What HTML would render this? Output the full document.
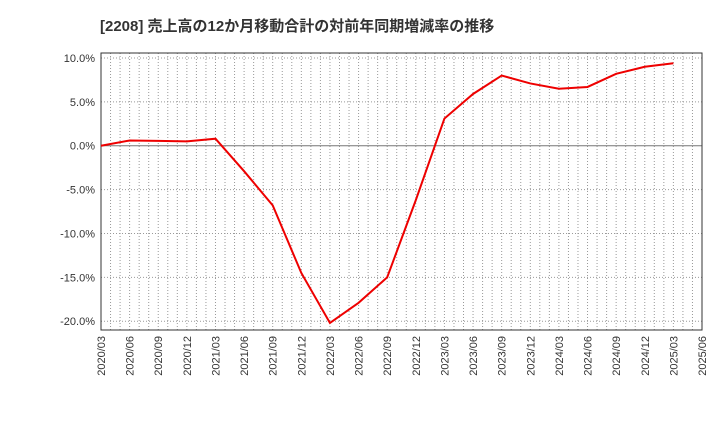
<!DOCTYPE html>
<html><head><meta charset="utf-8"><style>
body{margin:0;background:#fff;font-family:"Liberation Sans","Noto Sans CJK JP",sans-serif;}
</style></head><body>
<svg width="720" height="440" xmlns="http://www.w3.org/2000/svg">
<text x="100" y="31" font-size="15" font-weight="bold" fill="#333" font-family="Liberation Sans, Noto Sans CJK JP, sans-serif">[2208]  売上高の12か月移動合計の対前年同期増減率の推移</text>
<g id="grid"></g><g id="axes"></g><g id="series"></g>
</svg>
<script>
const xLabels=["2020/03","2020/06","2020/09","2020/12","2021/03","2021/06","2021/09","2021/12","2022/03","2022/06","2022/09","2022/12","2023/03","2023/06","2023/09","2023/12","2024/03","2024/06","2024/09","2024/12","2025/03","2025/06"];
const values=[0.0,0.6,0.55,0.5,0.8,-2.9,-6.8,-14.5,-20.2,-17.9,-15.0,-6.2,3.1,5.9,8.0,7.1,6.5,6.7,8.2,9.0,9.4];
const yTicks=[10,5,0,-5,-10,-15,-20];
const L=101,R=702,T=53,B=330;
const yMax=10.57,yMin=-21.0;
const X=i=>L+(R-L)*i/(xLabels.length-1);
const Y=v=>T+(yMax-v)/(yMax-yMin)*(B-T);
const NS="http://www.w3.org/2000/svg";
function mk(t,a,p){const e=document.createElementNS(NS,t);for(const k in a)e.setAttribute(k,a[k]);p.appendChild(e);return e;}
const g=document.getElementById('grid'),ax=document.getElementById('axes'),s=document.getElementById('series');
const months=(xLabels.length-1)*3;
for(let m=1;m<months;m++){const x=L+(R-L)*m/months;
const l=mk('line',{x1:x,x2:x,y1:T,y2:B,stroke:'#999','stroke-dasharray':'1,2','stroke-width':1},g);

}
yTicks.forEach(v=>{const y=Y(v);
const l=mk('line',{x1:L,x2:R,y1:y,y2:y,stroke:v===0?'#777':'#999','stroke-dasharray':v===0?'':'1,2','stroke-width':1},g);


const t=mk('text',{x:L-6,y:y+4,'text-anchor':'end','font-size':11,fill:'#333'},ax);
t.textContent=v.toFixed(1)+'%';

});
const fr=mk('rect',{x:L,y:T,width:R-L,height:B-T,fill:'none',stroke:'#333','stroke-width':1},ax);


xLabels.forEach((lab,i)=>{const x=X(i);
const t=mk('text',{x:x+4,y:B+6,'text-anchor':'end','font-size':11,fill:'#333',transform:`rotate(-90 ${x+4} ${B+6})`},ax);
t.textContent=lab;

});
const p=mk('polyline',{points:values.map((v,i)=>X(i)+','+Y(v)).join(' '),fill:'none',stroke:'#ee0000','stroke-width':2},s);


</script>
</body></html>
